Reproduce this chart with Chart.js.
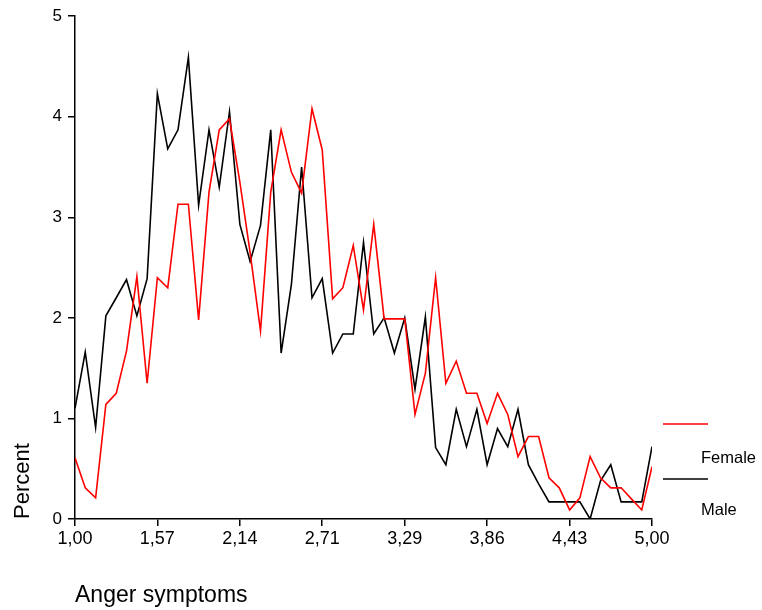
<!DOCTYPE html>
<html><head><meta charset="utf-8">
<script src="https://cdn.jsdelivr.net/npm/chart.js@4/dist/chart.umd.min.js"></script>
<style>html,body{margin:0;padding:0;background:#fff}#wrap{width:762px;height:610px;position:relative}</style>
</head><body><div id="wrap"><canvas id="c" width="762" height="610"></canvas></div>
<script>
const xValues = [
1.000,1.071,1.143,1.214,1.286,1.357,1.429,1.500,
1.571,1.643,1.714,1.786,1.857,1.929,2.000,2.071,
2.143,2.214,2.286,2.357,2.429,2.500,2.571,2.643,
2.714,2.786,2.857,2.929,3.000,3.071,3.143,3.214,
3.286,3.357,3.429,3.500,3.571,3.643,3.714,3.786,
3.857,3.929,4.000,4.071,4.143,4.214,4.286,4.357,
4.429,4.500,4.571,4.643,4.714,4.786,4.857,4.929,
5.000];
const female = [0.61,0.31,0.21,1.14,1.25,1.67,2.41,1.35,2.40,2.30,3.13,3.13,1.98,3.25,3.87,3.98,3.35,2.65,1.87,3.25,3.87,3.45,3.24,4.08,3.67,2.19,2.30,2.72,2.08,2.93,1.99,1.99,1.99,1.04,1.45,2.40,1.35,1.57,1.25,1.25,0.95,1.25,1.04,0.62,0.82,0.82,0.41,0.31,0.09,0.21,0.62,0.41,0.31,0.31,0.20,0.09,0.52];
const male = [1.10,1.66,0.91,2.02,2.20,2.38,2.02,2.39,4.23,3.68,3.87,4.59,3.12,3.87,3.30,4.05,2.93,2.56,2.92,3.87,1.65,2.33,3.50,2.20,2.39,1.65,1.84,1.84,2.75,1.84,2.00,1.65,2.00,1.29,2.01,0.71,0.54,1.09,0.72,1.09,0.54,0.90,0.72,1.09,0.54,0.35,0.17,0.17,0.17,0.17,0.00,0.38,0.54,0.17,0.17,0.17,0.72];
const xTickValues = [1.000,1.571,2.143,2.714,3.286,3.857,4.429,5.000];
const xTickLabels = ["1,00","1,57","2,14","2,71","3,29","3,86","4,43","5,00"];
const seriesNames = ["Female","Male"];
const seriesColors = ["#ff0000","#000000"];

const FONT = "'Liberation Sans', Arial, sans-serif";

const legendPlugin = {
  id: 'sideLegend',
  afterDraw(chart) {
    const ctx = chart.ctx;
    ctx.save();
    const items = chart.data.datasets;
    const lineX0 = 663, lineX1 = 708, textX = 701;
    const lineYs = [424, 479];
    const textYs = [463, 515];
    items.forEach((ds, i) => {
      ctx.strokeStyle = ds.borderColor;
      ctx.lineWidth = 1.5;
      ctx.beginPath();
      ctx.moveTo(lineX0, lineYs[i]);
      ctx.lineTo(lineX1, lineYs[i]);
      ctx.stroke();
      ctx.fillStyle = '#000';
      ctx.font = "16.5px " + FONT;
      ctx.textAlign = 'left';
      ctx.textBaseline = 'alphabetic';
      ctx.fillText(ds.label, textX, textYs[i]);
    });
    ctx.restore();
  }
};

const ctx = document.getElementById('c').getContext('2d');
new Chart(ctx, {
  type: 'line',
  data: {
    datasets: [
      { label: seriesNames[0], data: xValues.map((x, i) => ({ x: x, y: female[i] })), borderColor: seriesColors[0], borderWidth: 1.6, pointRadius: 0, tension: 0, fill: false },
      { label: seriesNames[1], data: xValues.map((x, i) => ({ x: x, y: male[i] })), borderColor: seriesColors[1], borderWidth: 1.6, pointRadius: 0, tension: 0, fill: false }
    ]
  },
  options: {
    responsive: false,
    animation: false,
    devicePixelRatio: 1,
    layout: { padding: { left: 0, top: 14, right: 110, bottom: 0 } },
    plugins: { legend: { display: false }, tooltip: { enabled: false } },
    scales: {
      x: {
        type: 'linear', min: 1, max: 5,
        afterBuildTicks: s => { s.ticks = xTickValues.map(v => ({ value: v })); },
        afterFit: s => { s.height = 91; },
        ticks: { callback: (v, i) => xTickLabels[i], color: '#000', font: { family: FONT, size: 18 }, maxRotation: 0, autoSkip: false, padding: 2 },
        grid: { drawOnChartArea: false, drawTicks: true, tickLength: 7, color: '#000', lineWidth: 1.5 },
        border: { color: '#000', width: 1.5 },
        title: { display: true, text: 'Anger symptoms', align: 'start', color: '#000', font: { family: FONT, size: 23 }, padding: { top: 0, bottom: 1 } }
      },
      y: {
        type: 'linear', min: 0, max: 5,
        afterFit: s => { s.width = 75; },
        ticks: { stepSize: 1, color: '#000', font: { family: FONT, size: 17 }, padding: 6 },
        grid: { drawOnChartArea: false, drawTicks: true, tickLength: 7, color: '#000', lineWidth: 1.5 },
        border: { color: '#000', width: 1.5 },
        title: { display: true, text: 'Percent', align: 'start', color: '#000', font: { family: FONT, size: 22 }, padding: { top: 10, bottom: 0 } }
      }
    }
  },
  plugins: [legendPlugin]
});
</script>
</body></html>
